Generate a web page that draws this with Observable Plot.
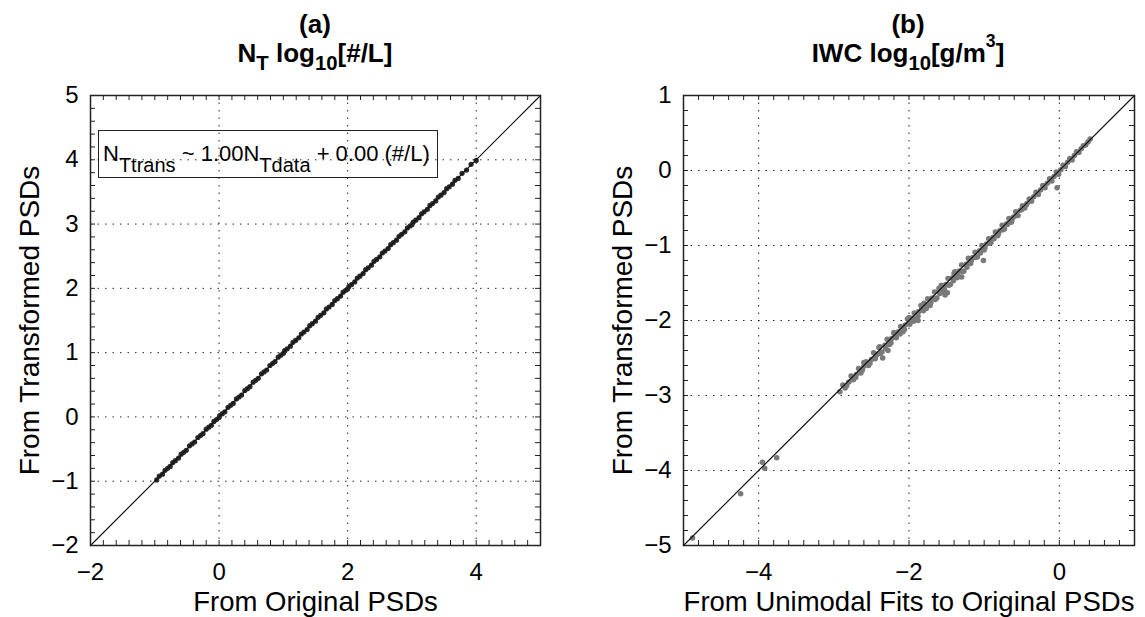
<!DOCTYPE html>
<html>
<head>
<meta charset="utf-8">
<script src="https://cdn.jsdelivr.net/npm/d3@7"></script>
<script src="https://cdn.jsdelivr.net/npm/@observablehq/plot@0.6"></script>
<style>
  body { margin: 0; background: #fff; }
  #wrap { position: relative; width: 1145px; height: 617px; overflow: hidden; background: #fff;
          font-family: "Liberation Sans", Arial, Helvetica, sans-serif; color: #000; }
  .panel { position: absolute; top: 0; }
  .t { position: absolute; text-align: center; font-weight: bold; font-size: 26px; line-height: 1; white-space: nowrap; }
  .sub { font-size: 0.78em; position: relative; top: 0.4em; }
  .sup { font-size: 0.68em; position: relative; top: -0.85em; }
  .legend { position: absolute; left: 98px; top: 130px; width: 338px; height: 46px; border: 1.5px solid #222;
            font-size: 22px; line-height: 1; white-space: nowrap; }
  .legend .txt { position: absolute; left: 4px; top: 12px; }
  .legend .ls { font-size: 20px; position: relative; top: 11px; }
</style>
</head>
<body>
<div id="wrap">
  <div class="t" style="left:115px;width:400px;top:11px;">(a)</div>
  <div class="t" style="left:115px;width:400px;top:40px;">N<span class="sub">T</span> log<span class="sub">10</span>[#/L]</div>
  <div class="t" style="left:708px;width:400px;top:11px;">(b)</div>
  <div class="t" style="left:708px;width:400px;top:40px;">IWC log<span class="sub">10</span>[g/m<span class="sup">3</span>]</div>
  <div id="pa" class="panel" style="left:0px;"></div>
  <div id="pb" class="panel" style="left:575px;"></div>
  <div class="legend"><div class="txt">N<span class="ls">Ttrans</span> ~ 1.00N<span class="ls">Tdata</span> + 0.00 (#/L)</div></div>
</div>
<script>
// ---------- Panel (a): N_T ----------
const domainA = [-2, 5];
const xTicksA = [-2, 0, 2, 4];
const yTicksA = [-2, -1, 0, 1, 2, 3, 4, 5];
const xLabelA = "From Original PSDs";
const yLabelA = "From Transformed PSDs";
const ntOriginal = [-0.97,-0.93,-0.88,-0.84,-0.8,-0.76,-0.72,-0.68,-0.63,-0.59,-0.55,-0.51,-0.46,-0.42,-0.38,-0.33,-0.29,-0.25,-0.2,-0.16,-0.12,-0.08,-0.04,0.0,0.01,0.05,0.09,0.14,0.18,0.22,0.27,0.31,0.35,0.4,0.44,0.48,0.53,0.57,0.61,0.66,0.7,0.74,0.79,0.83,0.87,0.92,0.96,1.0,1.02,1.06,1.11,1.15,1.19,1.24,1.28,1.32,1.37,1.41,1.45,1.5,1.54,1.58,1.63,1.67,1.71,1.76,1.8,1.84,1.89,1.93,1.97,2.0,2.02,2.06,2.11,2.15,2.19,2.24,2.28,2.32,2.37,2.41,2.45,2.5,2.54,2.58,2.63,2.67,2.71,2.76,2.8,2.84,2.89,2.93,2.97,3.0,3.02,3.06,3.11,3.15,3.19,3.24,3.28,3.32,3.37,3.41,3.45,3.5,3.54,3.58,3.63,3.67,3.72,3.78,3.85,3.92,4.0];
const ntTransformed = [-0.98,-0.92,-0.89,-0.83,-0.8,-0.77,-0.71,-0.68,-0.64,-0.58,-0.55,-0.52,-0.45,-0.42,-0.39,-0.32,-0.29,-0.26,-0.19,-0.16,-0.13,-0.07,-0.04,-0.01,0.02,0.05,0.08,0.15,0.18,0.21,0.28,0.31,0.34,0.41,0.44,0.47,0.54,0.57,0.6,0.67,0.7,0.73,0.8,0.83,0.86,0.93,0.96,0.99,1.03,1.06,1.1,1.16,1.19,1.23,1.29,1.32,1.36,1.42,1.45,1.49,1.55,1.58,1.62,1.68,1.71,1.75,1.81,1.84,1.88,1.94,1.97,1.99,2.03,2.06,2.1,2.16,2.19,2.23,2.29,2.32,2.36,2.42,2.45,2.49,2.55,2.58,2.62,2.68,2.71,2.75,2.81,2.84,2.88,2.94,2.97,2.99,3.03,3.06,3.1,3.16,3.19,3.23,3.29,3.32,3.36,3.42,3.45,3.49,3.55,3.58,3.62,3.68,3.71,3.79,3.84,3.93,3.99];

// ---------- Panel (b): IWC ----------
const domainBx = [-5, 1];
const domainBy = [-5, 1];
const xTicksB = [-4, -2, 0];
const yTicksB = [-5, -4, -3, -2, -1, 0, 1];
const xLabelB = "From Unimodal Fits to Original PSDs";
const yLabelB = "From Transformed PSDs";
const iwcFit = [-4.88,-4.24,-3.95,-3.92,-3.76,-2.92,-2.88,-2.85,-2.8,-2.77,-2.74,-2.7,-2.67,-2.64,-2.6,-2.57,-2.54,-2.5,-2.47,-2.45,-2.42,-2.39,-2.36,-2.35,-2.32,-2.29,-2.26,-2.23,-2.2,-2.17,-2.14,-2.11,-2.08,-2.05,-2.02,-1.99,-1.96,-1.93,-1.9,-1.87,-1.84,-1.81,-1.78,-1.75,-1.72,-1.69,-1.66,-1.63,-1.6,-1.57,-1.54,-1.51,-1.49,-1.48,-1.45,-1.42,-1.39,-1.36,-1.33,-1.3,-1.27,-1.24,-1.21,-1.18,-1.15,-1.12,-1.09,-1.06,-1.03,-1.01,-1.0,-0.97,-0.94,-0.91,-0.88,-0.85,-0.82,-0.79,-0.76,-0.73,-0.7,-0.67,-0.64,-0.61,-0.58,-0.55,-0.52,-0.49,-0.46,-0.43,-0.4,-0.37,-0.34,-0.31,-0.28,-0.25,-0.22,-0.19,-0.16,-0.13,-0.1,-0.07,-0.04,-0.03,-0.01,0.02,0.05,0.08,0.11,0.14,0.17,0.2,0.23,0.26,0.29,0.32,0.35,0.38,0.41,
  -2.83,-2.71,-2.62,-2.52,-2.44,-2.38,-2.31,-2.24,-2.18,-2.12,-2.06,-2.0,-1.94,-1.88,-1.83,-1.77,-1.71,-1.65,-1.59,-1.53,-1.47,-1.41,-1.35,-1.29,-1.23,-1.17,-1.11,-1.05,-0.99,-0.93,-0.87,-0.81,-0.75,-0.69,-0.63,-0.57,-0.5,-0.44,-2.6,-2.4,-2.2,-2.0,-1.8,-1.6,-1.4,-1.2,-1.52,-1.88,-2.28,-1.3];
const iwcTransformed = [-4.9,-4.31,-3.89,-3.97,-3.83,-2.95,-2.86,-2.9,-2.82,-2.74,-2.79,-2.72,-2.64,-2.7,-2.61,-2.55,-2.6,-2.52,-2.43,-2.51,-2.45,-2.35,-2.42,-2.5,-2.33,-2.25,-2.32,-2.24,-2.16,-2.23,-2.15,-2.08,-2.15,-2.06,-1.98,-2.05,-1.97,-1.9,-1.97,-1.88,-1.8,-1.87,-1.79,-1.71,-1.8,-1.7,-1.62,-1.7,-1.61,-1.53,-1.62,-1.52,-1.63,-1.44,-1.52,-1.43,-1.35,-1.43,-1.34,-1.26,-1.34,-1.25,-1.17,-1.24,-1.16,-1.09,-1.15,-1.07,-1.0,-1.2,-1.06,-0.98,-0.91,-0.96,-0.89,-0.82,-0.87,-0.8,-0.73,-0.78,-0.71,-0.64,-0.69,-0.62,-0.55,-0.6,-0.53,-0.47,-0.5,-0.44,-0.38,-0.41,-0.35,-0.29,-0.32,-0.26,-0.2,-0.23,-0.17,-0.11,-0.14,-0.08,-0.02,-0.23,-0.05,0.01,0.07,0.05,0.11,0.16,0.14,0.2,0.25,0.24,0.29,0.33,0.34,0.38,0.42,
  -2.87,-2.76,-2.66,-2.57,-2.47,-2.44,-2.37,-2.3,-2.2,-2.18,-2.12,-2.03,-2.01,-1.94,-1.85,-1.84,-1.76,-1.72,-1.64,-1.58,-1.53,-1.47,-1.4,-1.35,-1.29,-1.2,-1.16,-1.1,-1.03,-0.97,-0.91,-0.84,-0.79,-0.72,-0.66,-0.6,-0.52,-0.46,-2.56,-2.36,-2.17,-1.96,-1.77,-1.57,-1.37,-1.18,-1.66,-2.0,-2.4,-1.42];

const FONT = "Liberation Sans, Arial, Helvetica, sans-serif";
const TICK = 5;

function panel({xDomain, yDomain, xTicks, yTicks, xs, ys, dotFill, dotR, xLabel, yLabel,
                width, height, ml, mr, mt, mb}) {
  const W = width - ml - mr, H = height - mt - mb;
  const pts = xs.map((x, i) => ({x, y: ys[i]}));
  const minorX = d3.range(xDomain[0], xDomain[1] + 1e-9, 0.2);
  const minorY = d3.range(yDomain[0], yDomain[1] + 1e-9, 0.2);
  const xGrid = xTicks.filter(v => v > xDomain[0] && v < xDomain[1]);
  const yGrid = yTicks.filter(v => v > yDomain[0] && v < yDomain[1]);
  const lo = Math.max(xDomain[0], yDomain[0]), hi = Math.min(xDomain[1], yDomain[1]);
  const identity = [{x: lo, y: lo}, {x: hi, y: hi}];
  const grid = {stroke: "#000", strokeOpacity: 0.85, strokeWidth: 1, strokeDasharray: "1.5,6"};
  const tick = {stroke: "#222", strokeWidth: 1};
  return Plot.plot({
    width, height, marginLeft: ml, marginRight: mr, marginTop: mt, marginBottom: mb,
    style: {fontFamily: FONT, fontSize: "24px", background: "transparent", overflow: "visible", color: "#000"},
    x: {domain: xDomain, axis: null},
    y: {domain: yDomain, axis: null},
    marks: [
      Plot.gridX(xGrid, grid),
      Plot.gridY(yGrid, grid),
      Plot.ruleX(minorX, {...tick, insetTop: H - TICK}),
      Plot.ruleX(minorX, {...tick, insetBottom: H - TICK}),
      Plot.ruleY(minorY, {...tick, insetRight: W - TICK}),
      Plot.ruleY(minorY, {...tick, insetLeft: W - TICK}),
      Plot.dot(pts, {x: "x", y: "y", r: dotR, fill: dotFill, stroke: "none"}),
      Plot.line(identity, {x: "x", y: "y", stroke: "#111", strokeWidth: 1.2}),
      Plot.frame({stroke: "#222", strokeWidth: 1.5}),
      Plot.axisX(xTicks, {tickSize: 0, tickPadding: 17, fontSize: 24, label: null, tickFormat: d3.format("")}),
      Plot.axisY(yTicks, {tickSize: 0, tickPadding: 12, fontSize: 24, label: null, tickFormat: d3.format("")}),
      Plot.text([xLabel], {frameAnchor: "bottom", dy: 65, lineAnchor: "bottom", textAnchor: "middle", fontSize: 27.5, fill: "#000"}),
      Plot.text([yLabel], {frameAnchor: "left", dx: -60, rotate: -90, lineAnchor: "middle", textAnchor: "middle", fontSize: 28, fill: "#000"})
    ]
  });
}

document.getElementById("pa").append(panel({
  xDomain: domainA, yDomain: domainA, xTicks: xTicksA, yTicks: yTicksA,
  xs: ntOriginal, ys: ntTransformed, dotFill: "#2a2a2a", dotR: 2.6,
  xLabel: xLabelA, yLabel: yLabelA,
  width: 570, height: 617, ml: 90, mr: 30, mt: 95, mb: 72
}));
document.getElementById("pb").append(panel({
  xDomain: domainBx, yDomain: domainBy, xTicks: xTicksB, yTicks: yTicksB,
  xs: iwcFit, ys: iwcTransformed, dotFill: "#7a7a7a", dotR: 2.8,
  xLabel: xLabelB, yLabel: yLabelB,
  width: 570, height: 617, ml: 108, mr: 11, mt: 95, mb: 72
}));
</script>
</body>
</html>
